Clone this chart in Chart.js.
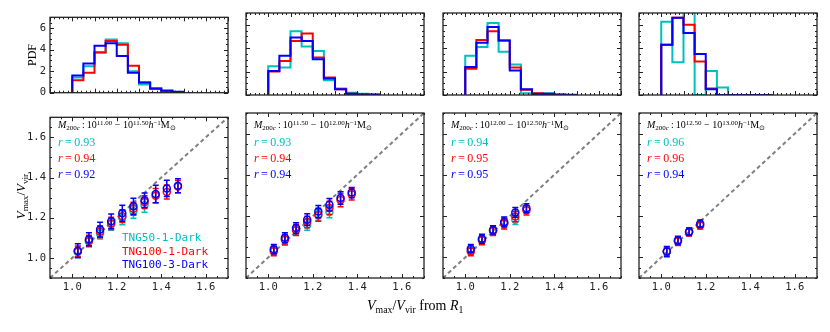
<!DOCTYPE html>
<html>
<head>
<meta charset="utf-8">
<script src="https://cdn.jsdelivr.net/npm/chart.js@4/dist/chart.umd.min.js"></script>
<style>
  body { margin: 0; background: #fff; }
  #fig { position: relative; width: 830px; height: 332px; overflow: hidden; }
  #fig canvas { position: absolute; }
  .t { position: absolute; white-space: nowrap; line-height: 1; color: #000;
       font-family: "Liberation Serif", "Times New Roman", serif; }
  .mono { font-family: "DejaVu Sans Mono", monospace; }
  .sb { font-size: 70%; position: relative; top: 0.3em; }
  .sp { font-size: 70%; position: relative; top: -0.45em; }
</style>
</head>
<body>
<div id="fig"></div>
<script>
// bins de V_max/V_vir
var BIN_EDGES = [1.00, 1.05, 1.10, 1.15, 1.20, 1.25, 1.30, 1.35, 1.40, 1.45, 1.50];
var BIN_CENTERS = [1.025, 1.075, 1.125, 1.175, 1.225, 1.275, 1.325, 1.375, 1.425, 1.475];

// PDF por panel (fila = bin de masa)
var HIST_C = [
  [1.40, 2.45, 3.70, 4.95, 4.60, 2.00, 0.75, 0.35, 0.15, 0.05],
  [2.45, 2.35, 5.45, 4.15, 3.75, 1.25, 0.55, 0.20, 0.10, 0.03],
  [3.35, 4.10, 6.15, 3.70, 2.60, 0.15, 0.05, 0.15, 0.02, 0.00],
  [6.25, 2.80, 8.50, 0.00, 2.05, 0.65, 0.00, 0.00, 0.00, 0.00]
];
var HIST_R = [
  [1.15, 1.85, 3.75, 4.80, 4.45, 2.50, 0.95, 0.40, 0.15, 0.05],
  [2.00, 2.90, 4.60, 5.25, 3.20, 1.50, 0.50, 0.10, 0.05, 0.02],
  [2.25, 4.70, 5.45, 4.65, 2.35, 0.45, 0.15, 0.05, 0.05, 0.02],
  [4.30, 6.60, 6.00, 2.85, 0.55, 0.00, 0.00, 0.00, 0.00, 0.00]
];
var HIST_B = [
  [1.60, 2.70, 4.35, 4.60, 3.40, 1.85, 0.95, 0.40, 0.20, 0.08],
  [2.05, 3.35, 4.90, 4.60, 3.05, 1.40, 0.50, 0.10, 0.05, 0.05],
  [2.40, 4.45, 5.80, 4.65, 2.10, 0.50, 0.10, 0.10, 0.03, 0.01],
  [4.30, 6.60, 5.30, 3.50, 0.50, 0.00, 0.00, 0.00, 0.00, 0.00]
];

// medias y errores (V_max/V_vir real vs. desde R_1)
var MEAN_C = [
  [1.030, 1.082, 1.122, 1.168, 1.200, 1.232, 1.262],
  [1.035, 1.088, 1.135, 1.158, 1.210, 1.220],
  [1.035, 1.088, 1.130, 1.168, 1.182],
  [1.030, 1.082, 1.126]
];
var MEAN_R = [
  [1.033, 1.085, 1.130, 1.172, 1.208, 1.245, 1.278, 1.310, 1.328, 1.355],
  [1.030, 1.085, 1.132, 1.172, 1.205, 1.240, 1.278, 1.306],
  [1.028, 1.083, 1.128, 1.163, 1.198, 1.228],
  [1.030, 1.078, 1.122, 1.155]
];
var MEAN_B = [
  [1.036, 1.093, 1.141, 1.183, 1.222, 1.257, 1.287, 1.318, 1.346, 1.359],
  [1.040, 1.095, 1.142, 1.183, 1.222, 1.255, 1.288, 1.314],
  [1.042, 1.090, 1.133, 1.172, 1.218, 1.238],
  [1.028, 1.083, 1.124, 1.163]
];
var ERR_C = [
  [0.025, 0.026, 0.028, 0.030, 0.035, 0.035, 0.035],
  [0.022, 0.024, 0.026, 0.026, 0.030, 0.028],
  [0.020, 0.022, 0.022, 0.025, 0.022],
  [0.018, 0.018, 0.018]
];
var ERR_R = [
  [0.026, 0.028, 0.030, 0.030, 0.032, 0.032, 0.032, 0.035, 0.035, 0.030],
  [0.022, 0.025, 0.026, 0.028, 0.030, 0.032, 0.032, 0.028],
  [0.020, 0.022, 0.022, 0.025, 0.025, 0.022],
  [0.020, 0.020, 0.018, 0.018]
];
var ERR_B = [
  [0.035, 0.032, 0.037, 0.036, 0.040, 0.040, 0.036, 0.044, 0.040, 0.035],
  [0.022, 0.024, 0.026, 0.028, 0.030, 0.030, 0.030, 0.025],
  [0.020, 0.022, 0.020, 0.024, 0.024, 0.022],
  [0.025, 0.020, 0.018, 0.018]
];

var R_C = ['0.93', '0.93', '0.94', '0.96'];
var R_R = ['0.94', '0.94', '0.95', '0.96'];
var R_B = ['0.92', '0.94', '0.95', '0.94'];
var MASS_EDGES = ['11.00', '11.50', '12.00', '12.50', '13.00'];
var SIM_NAMES = ['TNG50-1-Dark', 'TNG100-1-Dark', 'TNG100-3-Dark'];

var X_RANGE = [0.9, 1.7];
var DIAG = [0.9, 1.7];
var HIST_X_MAJOR = [0.9, 1.0, 1.1, 1.2, 1.3, 1.4, 1.5, 1.6, 1.7];
var HIST_Y_TICKS = [0, 2, 4, 6];
var SCAT_X_TICKS = [1.0, 1.2, 1.4, 1.6];
var SCAT_Y_TICKS = [1.0, 1.2, 1.4, 1.6];

// colores matplotlib c / r / b
var COLORS = ['#00bfbf', '#ff0000', '#0000ff'];

// geometria de la figura
var COL_LEFT = [50, 246, 443, 639];
var PW = 178;
var ROW_TOP = [13, 113];
var ROW_H = [82, 165];
var ML = 40, MT = 6, MR = 6;

Chart.defaults.font.family = '"DejaVu Sans Mono", monospace';
Chart.defaults.font.size = 10.5;
Chart.defaults.color = '#222';

/* marco con ticks hacia adentro, estilo matplotlib */
var framePlugin = {
  id: 'frame',
  afterDraw: function (chart, args, o) {
    var ctx = chart.ctx, a = chart.chartArea;
    var xs = chart.scales.x, ys = chart.scales.y;
    ctx.save();
    ctx.strokeStyle = '#222';
    ctx.lineWidth = 1;
    function seg(x1, y1, x2, y2) { ctx.moveTo(x1, y1); ctx.lineTo(x2, y2); }
    function ticksX(vals, len) {
      vals.forEach(function (v) {
        var px = Math.round(xs.getPixelForValue(v)) + 0.5;
        seg(px, a.bottom, px, a.bottom - len);
        seg(px, a.top, px, a.top + len);
      });
    }
    function ticksY(vals, len) {
      vals.forEach(function (v) {
        var py = Math.round(ys.getPixelForValue(v)) + 0.5;
        seg(a.left, py, a.left + len, py);
        seg(a.right, py, a.right - len, py);
      });
    }
    function range(min, max, step) {
      var out = [], n = Math.round((max - min) / step);
      for (var i = 0; i <= n; i++) out.push(min + i * step);
      return out;
    }
    ctx.beginPath();
    ticksX(range(xs.min, xs.max, o.xMinor), 2);
    ticksY(range(ys.min, ys.max, o.yMinor), 2);
    ticksX(o.xMajor, 4);
    ticksY(o.yMajor, 4);
    ctx.stroke();
    ctx.lineWidth = 1.3;
    ctx.strokeRect(a.left, a.top, a.right - a.left, a.bottom - a.top);
    ctx.restore();
  }
};

/* barras de error, dibujadas antes de cada serie */
var errPlugin = {
  id: 'errbars',
  beforeDatasetDraw: function (chart, args) {
    var ds = chart.data.datasets[args.index];
    if (!ds.errors) return;
    var ys = chart.scales.y, ctx = chart.ctx;
    ctx.save();
    ctx.strokeStyle = ds.borderColor;
    ctx.lineWidth = 1.5;
    ctx.beginPath();
    args.meta.data.forEach(function (pt, i) {
      var v = ds.data[i].y, e = ds.errors[i];
      var y1 = ys.getPixelForValue(v + e), y2 = ys.getPixelForValue(v - e);
      ctx.moveTo(pt.x, y1); ctx.lineTo(pt.x, y2);
      ctx.moveTo(pt.x - 3, y1); ctx.lineTo(pt.x + 3, y1);
      ctx.moveTo(pt.x - 3, y2); ctx.lineTo(pt.x + 3, y2);
    });
    ctx.stroke();
    ctx.restore();
  }
};

function stepPoints(vals) {
  var pts = [{ x: BIN_EDGES[0], y: 0 }];
  vals.forEach(function (v, i) { pts.push({ x: BIN_EDGES[i], y: v }); });
  pts.push({ x: BIN_EDGES[BIN_EDGES.length - 1], y: 0 });
  return pts;
}

function pointsOf(vals) {
  return vals.map(function (v, i) { return { x: BIN_CENTERS[i], y: v }; });
}

function makeCanvas(col, row) {
  var cv = document.createElement('canvas');
  var bottom = row === 0 ? 8 : 22;
  cv.width = ML + PW + MR;
  cv.height = MT + ROW_H[row] + bottom;
  cv.style.left = (COL_LEFT[col] - ML) + 'px';
  cv.style.top = (ROW_TOP[row] - MT) + 'px';
  document.getElementById('fig').appendChild(cv);
  return cv;
}

function axes(col, row, yMin, yMax, xTicks, yTicks, yFmt) {
  return {
    x: {
      type: 'linear', min: X_RANGE[0], max: X_RANGE[1],
      grid: { display: false, drawTicks: false }, border: { display: false },
      ticks: { display: row === 1, padding: 3, callback: function (v) { return v.toFixed(1); } },
      afterBuildTicks: function (s) { s.ticks = xTicks.map(function (v) { return { value: v }; }); },
      afterFit: function (s) { s.height = row === 1 ? 22 : 0; }
    },
    y: {
      type: 'linear', min: yMin, max: yMax,
      grid: { display: false, drawTicks: false }, border: { display: false },
      ticks: { display: col === 0, padding: 4, callback: yFmt },
      afterBuildTicks: function (s) { s.ticks = yTicks.map(function (v) { return { value: v }; }); },
      afterFit: function (s) { s.width = ML; }
    }
  };
}

function baseOptions(col, row, scales, frame) {
  return {
    responsive: false, animation: false, events: [],
    layout: { padding: { left: 0, top: MT, right: MR, bottom: row === 0 ? 8 : 0 } },
    plugins: { legend: { display: false }, tooltip: { enabled: false }, frame: frame },
    scales: scales
  };
}

function histChart(col) {
  var sets = [HIST_B, HIST_R, HIST_C].map(function (h, k) {
    return {
      data: stepPoints(h[col]), showLine: true, stepped: true,
      borderColor: COLORS[2 - k], borderWidth: 2, pointRadius: 0, fill: false,
      borderJoinStyle: 'miter'
    };
  });
  new Chart(makeCanvas(col, 0), {
    type: 'scatter',
    data: { datasets: sets },
    options: baseOptions(col, 0,
      axes(col, 0, 0, 7, HIST_X_MAJOR, HIST_Y_TICKS, function (v) { return v.toFixed(0); }),
      { xMajor: HIST_X_MAJOR, xMinor: 0.02, yMajor: HIST_Y_TICKS, yMinor: 0.5 }),
    plugins: [framePlugin]
  });
}

function scatterChart(col) {
  var means = [MEAN_B, MEAN_R, MEAN_C], errs = [ERR_B, ERR_R, ERR_C];
  var sets = means.map(function (m, k) {
    return {
      data: pointsOf(m[col]), errors: errs[k][col], order: k,
      borderColor: COLORS[2 - k], backgroundColor: 'rgba(0,0,0,0)',
      pointRadius: 3.5, borderWidth: 1.5, showLine: false
    };
  });
  sets.push({
    type: 'line', order: 5,
    data: DIAG.map(function (v) { return { x: v, y: v }; }),
    borderColor: '#808080', borderWidth: 2, borderDash: [4, 3],
    pointRadius: 0, fill: false
  });
  new Chart(makeCanvas(col, 1), {
    type: 'scatter',
    data: { datasets: sets },
    options: baseOptions(col, 1,
      axes(col, 1, 0.9, 1.7, SCAT_X_TICKS, SCAT_Y_TICKS, function (v) { return v.toFixed(1); }),
      { xMajor: SCAT_X_TICKS, xMinor: 0.05, yMajor: SCAT_Y_TICKS, yMinor: 0.05 }),
    plugins: [framePlugin, errPlugin]
  });
}

function addText(html, left, top, size, color, cls) {
  var d = document.createElement('div');
  d.className = 't' + (cls ? ' ' + cls : '');
  d.style.left = left + 'px';
  d.style.top = top + 'px';
  d.style.fontSize = size + 'px';
  if (color) d.style.color = color;
  d.innerHTML = html;
  document.getElementById('fig').appendChild(d);
  return d;
}

for (var c = 0; c < 4; c++) {
  histChart(c);
  scatterChart(c);
  var L = COL_LEFT[c] + 8, T = ROW_TOP[1];
  addText('<i>M</i><span class="sb">200<i>c</i></span>&thinsp;:&thinsp;10<span class="sp">' + MASS_EDGES[c] +
    '</span> &minus; 10<span class="sp">' + MASS_EDGES[c + 1] + '</span><i>h</i><span class="sp">&minus;1</span>M<span class="sb">&#8857;</span>',
    L, T + 7, 10, '#000');
  addText('<i>r</i>&thinsp;=&thinsp;' + R_C[c], L, T + 23, 12, COLORS[0]);
  addText('<i>r</i>&thinsp;=&thinsp;' + R_R[c], L, T + 39, 12, COLORS[1]);
  addText('<i>r</i>&thinsp;=&thinsp;' + R_B[c], L, T + 55, 12, COLORS[2]);
}

SIM_NAMES.forEach(function (n, k) {
  addText(n, COL_LEFT[0] + 72, ROW_TOP[1] + 119 + k * 13.5, 11, COLORS[k], 'mono');
});

// etiquetas de ejes
var pdf = addText('PDF', 0, 0, 12, '#000');
pdf.style.left = (32 - pdf.offsetWidth / 2) + 'px';
pdf.style.top = (55 - pdf.offsetHeight / 2) + 'px';
pdf.style.transform = 'rotate(-90deg)';

var yl = addText('<i>V</i><span class="sb">max</span>/<i>V</i><span class="sb">vir</span>', 0, 0, 13, '#000');
yl.style.left = (20 - yl.offsetWidth / 2) + 'px';
yl.style.top = (196 - yl.offsetHeight / 2) + 'px';
yl.style.transform = 'rotate(-90deg)';

var xl = addText('<i>V</i><span class="sb">max</span>/<i>V</i><span class="sb">vir</span> from <i>R</i><span class="sb">1</span>', 0, 0, 14, '#000');
xl.style.left = (415 - xl.offsetWidth / 2) + 'px';
xl.style.top = (306 - xl.offsetHeight / 2) + 'px';
</script>
</body>
</html>
